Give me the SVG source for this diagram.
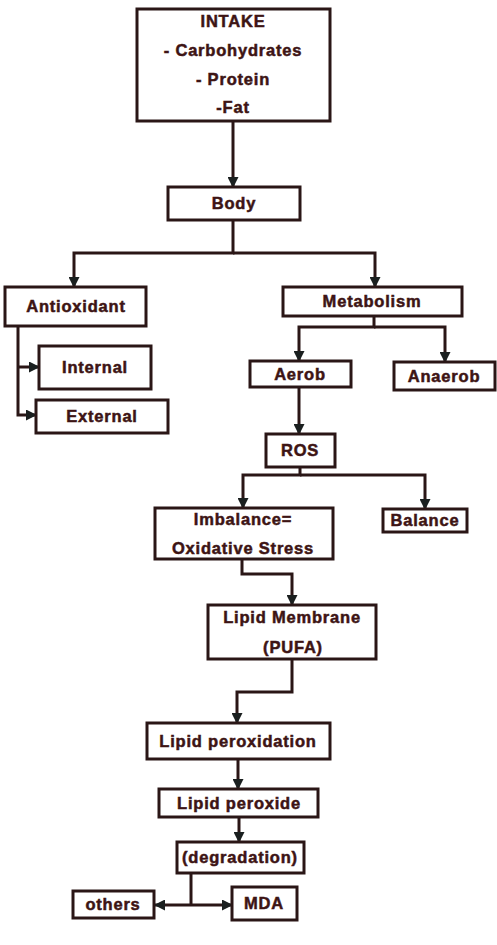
<svg xmlns="http://www.w3.org/2000/svg" width="497" height="945" viewBox="0 0 497 945">
<style>
.box{fill:#fff;stroke:#2a1616;stroke-width:3}
.t{font-family:"Liberation Sans",Arial,sans-serif;font-weight:bold;font-size:16.5px;fill:#3d1414;stroke:#3d1414;stroke-width:0.5;text-anchor:middle;letter-spacing:0.8px}
.c{fill:none;stroke:#2a1616;stroke-width:3;marker-end:url(#ah)}
</style>
<defs>
<marker id="ah" markerWidth="11" markerHeight="11" refX="10" refY="5.5" orient="auto" markerUnits="userSpaceOnUse">
<path d="M0,0 L11,5.5 L0,11 Z" fill="#1a1f1f"/>
</marker>
</defs>
<rect width="497" height="945" fill="#fff"/>
<g id="connectors">
<path class="c" d="M233,121 V187"/>
<path class="c" d="M233,220 V253 H74 V287"/>
<path class="c" d="M233,253 H375 V287"/>
<path class="c" d="M18,326 V415 H36"/>
<path class="c" d="M18,367 H39"/>
<path class="c" d="M374,316 V327 H299 V361"/>
<path class="c" d="M374,327 H445 V362"/>
<path class="c" d="M299,387 V434"/>
<path class="c" d="M300,467 V475 H243 V508"/>
<path class="c" d="M300,475 H425 V509"/>
<path class="c" d="M242,559 V574 H292 V605"/>
<path class="c" d="M292,659 V692 H237 V723"/>
<path class="c" d="M238,759 V789"/>
<path class="c" d="M239,817 V842"/>
<path fill="none" stroke="#2a1616" stroke-width="3" d="M191,873 V905"/>
<path class="c" d="M191,905 H155"/>
<path class="c" d="M191,905 H232"/>
</g>
<g id="intake"><rect class="box" x="137" y="9" width="193" height="112"/>
<text class="t" x="233" y="27">INTAKE</text>
<text class="t" x="233" y="56">- Carbohydrates</text>
<text class="t" x="233" y="85">- Protein</text>
<text class="t" x="233" y="113">-Fat</text></g>
<g id="body"><rect class="box" x="168" y="187" width="132" height="33"/><text class="t" x="234" y="209">Body</text></g>
<g id="antioxidant"><rect class="box" x="5" y="287" width="141" height="39"/><text class="t" x="76" y="312">Antioxidant</text></g>
<g id="internal"><rect class="box" x="39" y="346" width="112" height="43"/><text class="t" x="95" y="373">Internal</text></g>
<g id="external"><rect class="box" x="36" y="400" width="132" height="33"/><text class="t" x="102" y="422">External</text></g>
<g id="metabolism"><rect class="box" x="283" y="287" width="179" height="29"/><text class="t" x="372" y="307">Metabolism</text></g>
<g id="aerob"><rect class="box" x="250" y="361" width="101" height="26"/><text class="t" x="300" y="380">Aerob</text></g>
<g id="anaerob"><rect class="box" x="394" y="362" width="101" height="28"/><text class="t" x="444" y="382">Anaerob</text></g>
<g id="ros"><rect class="box" x="266" y="434" width="69" height="33"/><text class="t" x="300" y="456">ROS</text></g>
<g id="imbalance"><rect class="box" x="155" y="508" width="178" height="51"/>
<text class="t" x="243" y="525">Imbalance=</text>
<text class="t" x="243" y="554">Oxidative Stress</text></g>
<g id="balance"><rect class="box" x="383" y="509" width="84" height="23"/><text class="t" x="425" y="526">Balance</text></g>
<g id="lipid-membrane"><rect class="box" x="208" y="605" width="168" height="54"/>
<text class="t" x="292" y="623">Lipid Membrane</text>
<text class="t" x="293" y="653">(PUFA)</text></g>
<g id="lipid-peroxidation"><rect class="box" x="147" y="723" width="183" height="36"/><text class="t" x="238" y="747">Lipid peroxidation</text></g>
<g id="lipid-peroxide"><rect class="box" x="159" y="789" width="159" height="28"/><text class="t" x="239" y="809">Lipid peroxide</text></g>
<g id="degradation"><rect class="box" x="177" y="842" width="127" height="31"/><text class="t" x="240" y="863">(degradation)</text></g>
<g id="others"><rect class="box" x="73" y="891" width="81" height="27"/><text class="t" x="113" y="910">others</text></g>
<g id="mda"><rect class="box" x="232" y="887" width="65" height="33"/><text class="t" x="264" y="909">MDA</text></g>
</svg>
